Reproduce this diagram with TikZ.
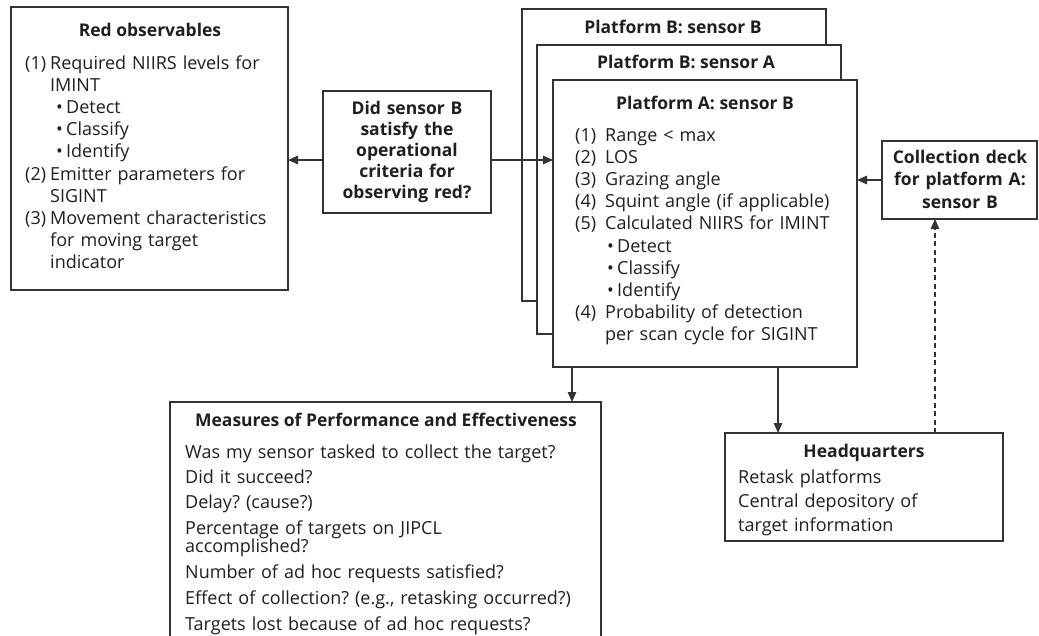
\documentclass[tikz,border=0pt]{standalone}
\usepackage{fontspec}
\setmainfont{Open Sans}
\usetikzlibrary{arrows.meta}
\frenchspacing

% hanging indent for numbered items, set per text block
\newlength\hng
\newcommand\lab[1]{\makebox[\hng][l]{#1}}
\newcommand\cont{\hspace*{\hng}}
\newcommand\bul[1][0pt]{\hspace*{\dimexpr\hng+#1\relax}\makebox[10pt][l]{\textbullet}}

\tikzset{
  ink/.style={draw=black!80, line width=1.3pt},
  box/.style={ink, fill=white, inner sep=0pt, outer sep=0pt, anchor=north west},
  body/.style={inner sep=0pt, text=black!88, font=\fontsize{18}{22.2}\selectfont\frenchspacing,
    align=left, anchor=base west},
  head/.style={inner sep=0pt, text=black!88, font=\fontsize{17.5}{22.2}\selectfont\bfseries,
    align=center, anchor=base},
  arr/.style={ink, -{Triangle[length=10pt,width=8.5pt]}},
  dasharr/.style={arr, dash pattern=on 5pt off 3.5pt},
}

\begin{document}
\begin{tikzpicture}[x=1pt,y=-1pt]
\useasboundingbox (0,0) rectangle (1039,635);
\clip (0,0) rectangle (1039,635);

% ---- boxes ----
\node[box, minimum width=277pt, minimum height=283pt] (red) at (11,7) {};
\node[box, minimum width=168pt, minimum height=122pt] (q) at (323,91) {};
\node[box, minimum width=304pt, minimum height=292pt] (pBB) at (522,9) {};
\node[box, minimum width=304pt, minimum height=289pt] (pBA) at (537,45) {};
\node[box, minimum width=304pt, minimum height=287pt] (pA) at (553,80) {};
\node[box, minimum width=155pt, minimum height=78pt] (deck) at (882,141) {};
\node[box, minimum width=431pt, minimum height=260pt] (mope) at (170,402) {};
\node[box, minimum width=278pt, minimum height=108pt] (hq) at (725,433) {};

% ---- Red observables ----
\node[head] (redttl) at (150,36) {Red observables};
\node[body, text width=262pt] (redtxt) at (25,69) {\setlength\hng{25pt}%
\lab{(1)}Required NIIRS levels for\\
\cont IMINT\\
\bul[6pt]Detect\\
\bul[6pt]Classify\\
\bul[6pt]Identify\\
\lab{(2)}Emitter parameters for\\
\cont SIGINT\\
\lab{(3)}Movement characteristics\\
\cont for moving target\\
\cont indicator};

% ---- question ----
\node[head, text width=166pt, font=\fontsize{17.5}{21.2}\selectfont\bfseries] (qtxt) at (407,114)
  {Did sensor B\\ satisfy the\\ operational\\ criteria for\\ observing red?};

% ---- platform stack ----
\node[head] (pBBttl) at (673,33) {Platform B: sensor B};
\node[head] (pBAttl) at (686,68) {Platform B: sensor A};
\node[head] (pAttl) at (705,109) {Platform A: sensor B};
\node[body, text width=290pt] (pAtxt) at (575,141) {\setlength\hng{30pt}%
\lab{(1)}Range < max\\
\lab{(2)}LOS\\
\lab{(3)}Grazing angle\\
\lab{(4)}Squint angle (if applicable)\\
\lab{(5)}Calculated NIIRS for IMINT\\
\bul[2pt]Detect\\
\bul[2pt]Classify\\
\bul[2pt]Identify\\
\lab{(4)}Probability of detection\\
\cont per scan cycle for SIGINT};

% ---- collection deck ----
\node[head, text width=150pt, font=\fontsize{17.5}{22.5}\selectfont\bfseries] (decktxt) at (960,163)
  {Collection deck\\ for platform A:\\ sensor B};

% ---- measures ----
\node[head] (mopettl) at (386,426) {Measures of Performance and Effectiveness};
\node[body, text width=415pt, font=\fontsize{18}{18}\selectfont\frenchspacing] (mopetxt) at (185,458) {%
Was my sensor tasked to collect the target?\\[7pt]
Did it succeed?\\[7pt]
Delay? (cause?)\\[7pt]
Percentage of targets on JIPCL\\
accomplished?\\[7pt]
Number of ad hoc requests satisfied?\\[7pt]
Effect of collection? (e.g., retasking occurred?)\\[7pt]
Targets lost because of ad hoc requests?};

% ---- headquarters ----
\node[head] (hqttl) at (864,457) {Headquarters};
\node[body, text width=260pt, font=\fontsize{18}{24}\selectfont] (hqtxt) at (738,483) {%
Retask platforms\\
Central depository of\\
target information};

% ---- connectors ----
\coordinate (qout) at ([yshift=-8pt]q.west);
\coordinate (qin) at ([yshift=-8pt]q.east);
\draw[arr] (qout) -- (qout -| red.east);
\draw[arr] (qin) -- (qin -| pA.west);
\draw[arr] (deck.west) -- (deck.west -| pA.east);
\coordinate (pAm) at ([xshift=-133pt]pA.south);
\coordinate (pAh) at ([xshift=73pt]pA.south);
\draw[arr] (pAm) -- (pAm |- mope.north);
\draw[arr] (pAh) -- (pAh |- hq.north);
\coordinate (hqd) at ([xshift=71pt]hq.north);
\draw[dasharr] (hqd) -- (hqd |- deck.south);
\end{tikzpicture}
\end{document}
